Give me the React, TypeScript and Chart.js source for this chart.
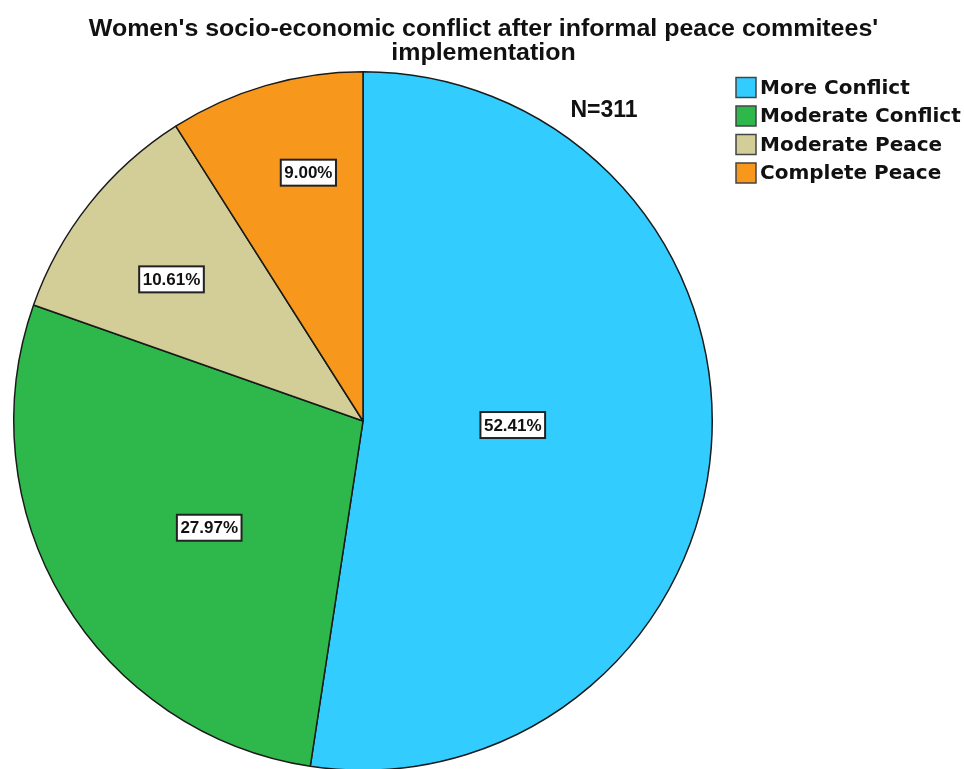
import { useEffect, useRef } from 'react';
import { Chart, registerables } from 'chart.js';

Chart.register(...registerables);

const categories = ['More Conflict', 'Moderate Conflict', 'Moderate Peace', 'Complete Peace'];
const counts = [163, 87, 33, 28];
const colors = ['#33CCFF', '#2EB84B', '#D3CE97', '#F7981D'];
const titleLines = ["Women's socio-economic conflict after informal peace commitees'", 'implementation'];
const totalLabel = 'N=311';
// label placement relative to each slice: fraction of radius, angle tweak (deg)
const labelRadius = [0.429, 0.536, 0.682, 0.728];
const labelAngleShift = [-2.8, -3.8, -2, 3.8];

const FONT = '"Liberation Sans", Arial, sans-serif';
const LEGEND_FONT = '"DejaVu Sans", Verdana, sans-serif';

const overlay = {
  id: 'overlay',
  afterDatasetsDraw(chart: any) {
    const ctx = chart.ctx as CanvasRenderingContext2D;
    const meta = chart.getDatasetMeta(0);
    const data = chart.data.datasets[0].data as number[];
    const total = data.reduce((a, b) => a + b, 0);
    ctx.save();
    meta.data.forEach((arc: any, i: number) => {
      const { x, y, startAngle, endAngle, outerRadius } = arc.getProps(
        ['x', 'y', 'startAngle', 'endAngle', 'outerRadius'],
        true
      );
      const mid = (startAngle + endAngle) / 2 + (labelAngleShift[i] * Math.PI) / 180;
      const r = outerRadius * labelRadius[i];
      const lx = x + Math.cos(mid) * r;
      const ly = y + Math.sin(mid) * r;
      const text = ((data[i] / total) * 100).toFixed(2) + '%';
      ctx.font = `bold 17px ${FONT}`;
      const w = ctx.measureText(text).width + 7;
      const h = 26;
      ctx.fillStyle = '#ffffff';
      ctx.fillRect(lx - w / 2, ly - h / 2, w, h);
      ctx.lineWidth = 2;
      ctx.strokeStyle = '#222222';
      ctx.strokeRect(lx - w / 2, ly - h / 2, w, h);
      ctx.fillStyle = '#111111';
      ctx.textAlign = 'center';
      ctx.textBaseline = 'middle';
      ctx.fillText(text, lx, ly + 1);
    });

    // title (slightly widened to match reference proportions)
    ctx.fillStyle = '#111111';
    ctx.textAlign = 'center';
    ctx.textBaseline = 'alphabetic';
    ctx.font = `bold 23px ${FONT}`;
    const stretch = 1.085;
    ctx.save();
    ctx.translate(483.5, 0);
    ctx.scale(stretch, 1);
    ctx.fillText(titleLines[0], 0, 36);
    ctx.fillText(titleLines[1], 0, 60);
    ctx.restore();

    // N label
    ctx.font = `bold 23px ${FONT}`;
    ctx.textAlign = 'center';
    ctx.fillText(totalLabel, 604, 117);

    // legend
    const colorsArr = chart.data.datasets[0].backgroundColor as string[];
    const labels = chart.data.labels as string[];
    labels.forEach((lab, i) => {
      const cy = 87.5 + i * 28.5;
      ctx.fillStyle = colorsArr[i];
      ctx.fillRect(736, cy - 10, 20, 20);
      ctx.lineWidth = 1.5;
      ctx.strokeStyle = '#444444';
      ctx.strokeRect(736, cy - 10, 20, 20);
      ctx.fillStyle = '#111111';
      ctx.font = `bold 20px ${LEGEND_FONT}`;
      ctx.textAlign = 'left';
      ctx.textBaseline = 'middle';
      ctx.fillText(lab, 760, cy + 1);
    });
    ctx.restore();
  },
};

export default function App() {
  const ref = useRef<HTMLCanvasElement | null>(null);
  useEffect(() => {
    if (!ref.current) return;
    const chart = new Chart(ref.current, {
      type: 'pie',
      data: {
        labels: categories,
        datasets: [
          {
            data: counts,
            backgroundColor: colors,
            borderColor: '#1a1a1a',
            borderWidth: 1.5,
          },
        ],
      },
      options: {
        responsive: false,
        animation: false,
        layout: { padding: { left: 13, top: 71, right: 251, bottom: 29 } },
        plugins: {
          legend: { display: false },
          tooltip: { enabled: false },
          title: { display: false },
        },
      },
      plugins: [overlay],
    });
    return () => chart.destroy();
  }, []);
  return (
    <div style={{ position: 'fixed', left: 0, top: 0, width: 964, height: 769, overflow: 'hidden', background: '#fff' }}>
      <canvas ref={ref} width={964} height={800} style={{ display: 'block' }} />
    </div>
  );
}
